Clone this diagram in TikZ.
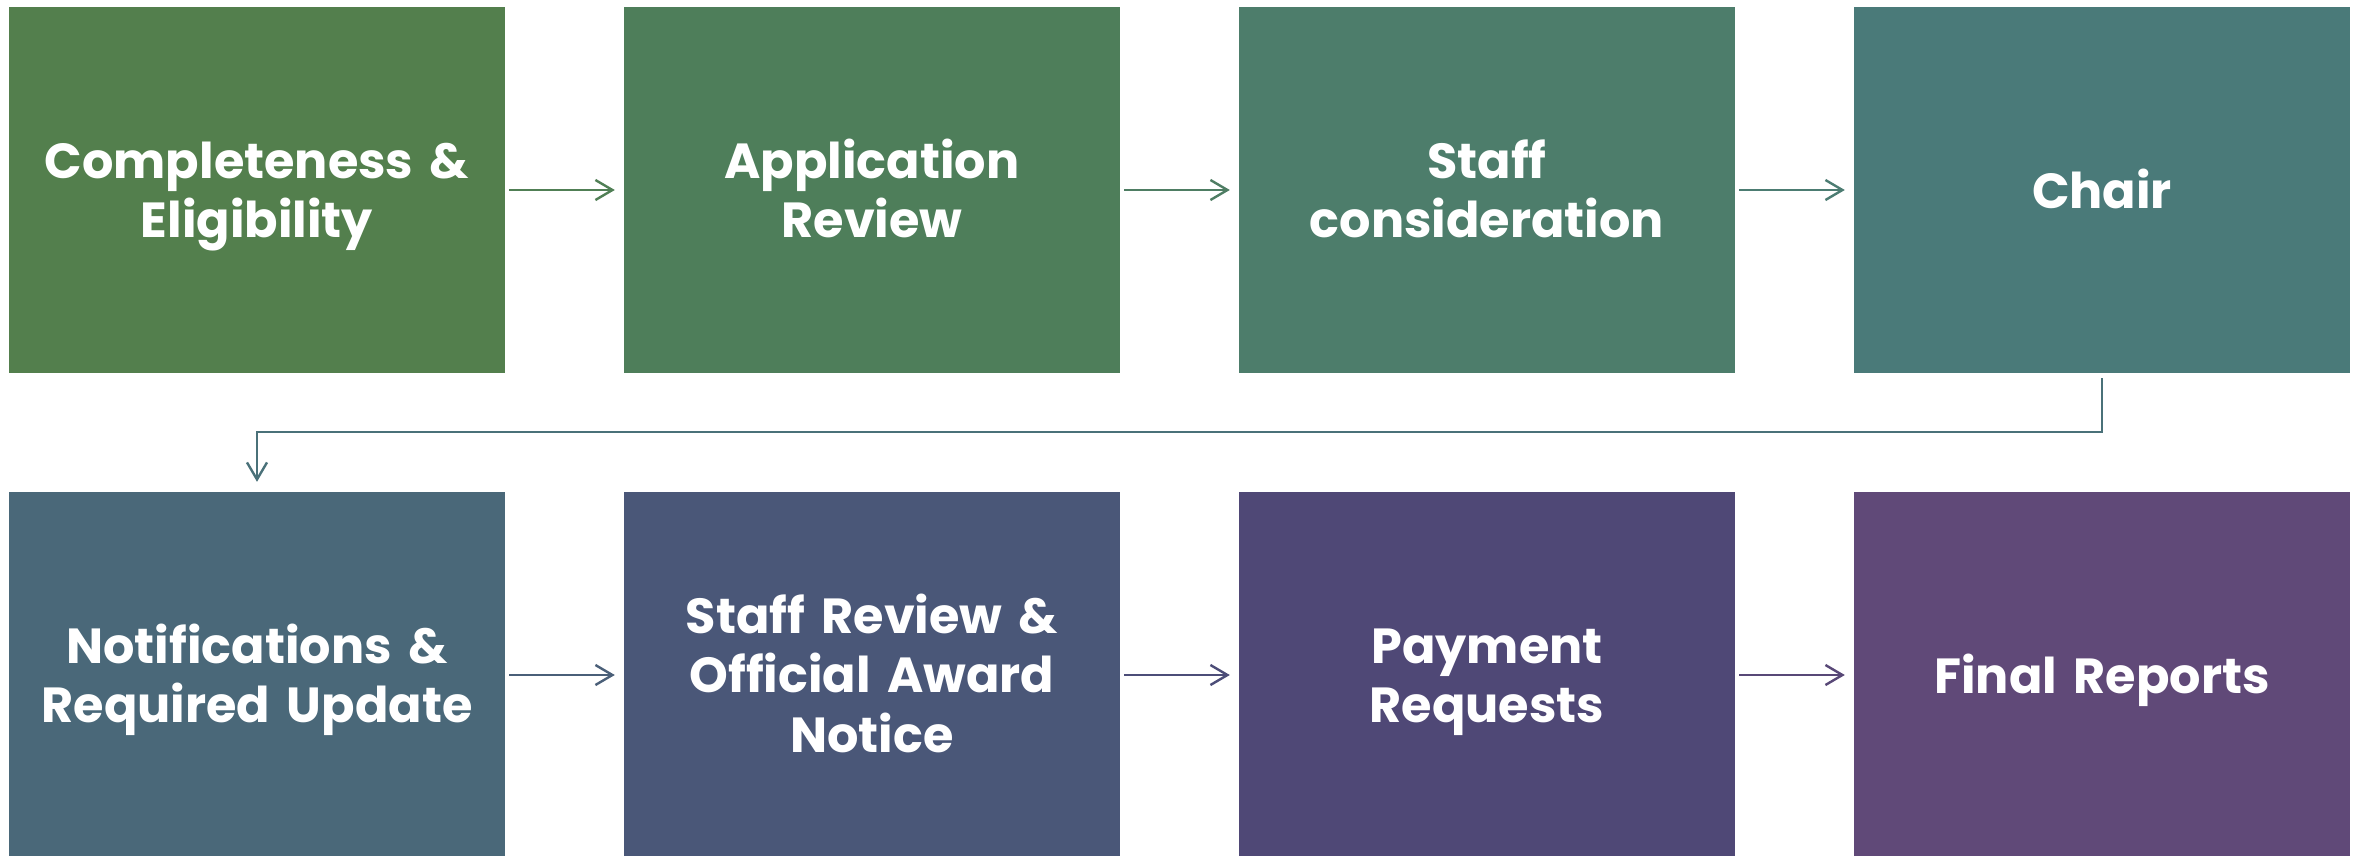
\documentclass[tikz,border=0pt]{standalone}
\usepackage{fontspec}
\newfontfamily\boxfont{Poppins}
\usetikzlibrary{arrows.meta}
\definecolor{cA}{HTML}{537F4D}
\definecolor{cB}{HTML}{4E7E5A}
\definecolor{cC}{HTML}{4D7D6B}
\definecolor{cD}{HTML}{4A7A79}
\definecolor{cE}{HTML}{4A6879}
\definecolor{cF}{HTML}{4A5778}
\definecolor{cG}{HTML}{4F4876}
\definecolor{cH}{HTML}{604978}
\definecolor{aA}{HTML}{507F55}
\definecolor{aB}{HTML}{4E7D63}
\definecolor{aC}{HTML}{4C7C72}
\definecolor{aD}{HTML}{4A7179}
\definecolor{aE}{HTML}{4A5F78}
\definecolor{aF}{HTML}{4C4D78}
\definecolor{aG}{HTML}{584877}
\tikzset{
  stepbox/.style={rectangle, minimum width=496bp, minimum height=366bp, inner sep=0pt},
  steptext/.style={inner sep=0pt, text=white, align=center, text width=480bp,
    text height=36bp, text depth=0bp,
    font=\boxfont\bfseries\fontsize{49.5}{60}\selectfont},
  flowarr/.style={line width=2.4bp, -{Straight Barb[length=17bp,width=20bp,line width=2.4bp]}}
}
\begin{document}
\begin{tikzpicture}[x=1bp,y=-1bp]
\useasboundingbox[fill=white] (0,0) rectangle (2359,855);
\clip (0,0) rectangle (2359,855);
\node[stepbox, fill=cA] (b1) at (257,190) {};
\node[stepbox, fill=cB] (b2) at (872,190) {};
\node[stepbox, fill=cC] (b3) at (1487,190) {};
\node[stepbox, fill=cD] (b4) at (2102,190) {};
\node[stepbox, fill=cE] (b5) at (257,675) {};
\node[stepbox, fill=cF] (b6) at (872,675) {};
\node[stepbox, fill=cG] (b7) at (1487,675) {};
\node[stepbox, fill=cH] (b8) at (2102,675) {};
\node[steptext, yshift=30bp] (t1) at (b1) {Completeness \&\\Eligibility};
\node[steptext, yshift=30bp] (t2) at (b2) {Application\\Review};
\node[steptext, yshift=30bp] (t3) at (b3) {Staff\\consideration};
\node[steptext] (t4) at (b4) {Chair};
\node[steptext, yshift=30bp] (t5) at (b5) {Notifications \&\\Required Update};
\node[steptext, yshift=60bp] (t6) at (b6) {Staff Review \&\\Official Award\\Notice};
\node[steptext, yshift=30bp] (t7) at (b7) {Payment\\Requests};
\node[steptext] (t8) at (b8) {Final Reports};
\draw[flowarr, aA] ([xshift=4bp]b1.east) -- ([xshift=-9bp]b2.west);
\draw[flowarr, aB] ([xshift=4bp]b2.east) -- ([xshift=-9bp]b3.west);
\draw[flowarr, aC] ([xshift=4bp]b3.east) -- ([xshift=-9bp]b4.west);
\draw[flowarr, aD] ([yshift=-5bp]b4.south) -- ++(0,54) -| ([yshift=10bp]b5.north);
\draw[flowarr, aE] ([xshift=4bp]b5.east) -- ([xshift=-9bp]b6.west);
\draw[flowarr, aF] ([xshift=4bp]b6.east) -- ([xshift=-9bp]b7.west);
\draw[flowarr, aG] ([xshift=4bp]b7.east) -- ([xshift=-9bp]b8.west);
\end{tikzpicture}
\end{document}
